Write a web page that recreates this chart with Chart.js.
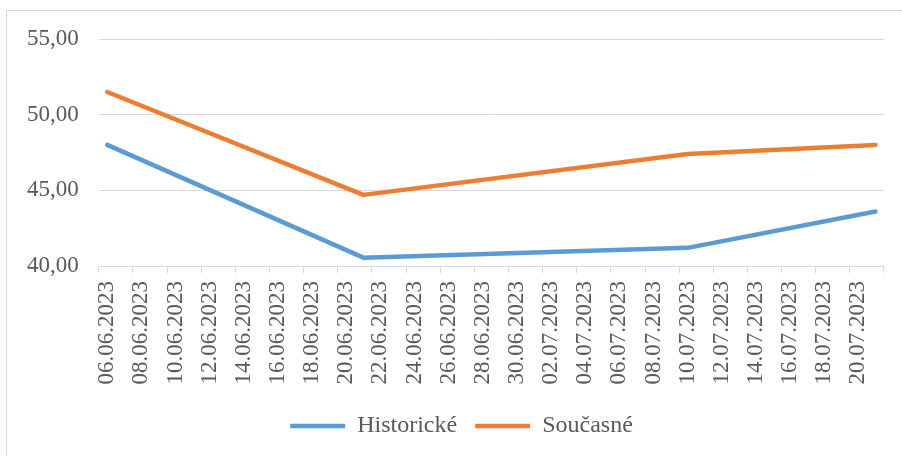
<!DOCTYPE html>
<html>
<head>
<meta charset="utf-8">
<script src="https://cdn.jsdelivr.net/npm/chart.js@4.4.0/dist/chart.umd.min.js"></script>
<style>
	body { margin: 0; background: #fff; }
	#wrap { position: relative; width: 902px; height: 456px; overflow: hidden; }
	#frame { position: absolute; left: 6px; top: 10px; width: 1000px; height: 1000px; border-left: 1px solid #d9d9d9; border-top: 1px solid #d9d9d9; }
	#chart { position: absolute; left: 0; top: 0; }
</style>
</head>
<body>
<div id="wrap">
	<div id="frame"></div>
	<canvas id="chart" width="902" height="456"></canvas>
</div>

<script type="text/javascript">

// kazdy den na ose (popisek jen u kazdeho druheho)
var days = [
	'06.06.2023', '07.06.2023', '08.06.2023', '09.06.2023', '10.06.2023', '11.06.2023',
	'12.06.2023', '13.06.2023', '14.06.2023', '15.06.2023', '16.06.2023', '17.06.2023',
	'18.06.2023', '19.06.2023', '20.06.2023', '21.06.2023', '22.06.2023', '23.06.2023',
	'24.06.2023', '25.06.2023', '26.06.2023', '27.06.2023', '28.06.2023', '29.06.2023',
	'30.06.2023', '01.07.2023', '02.07.2023', '03.07.2023', '04.07.2023', '05.07.2023',
	'06.07.2023', '07.07.2023', '08.07.2023', '09.07.2023', '10.07.2023', '11.07.2023',
	'12.07.2023', '13.07.2023', '14.07.2023', '15.07.2023', '16.07.2023', '17.07.2023',
	'18.07.2023', '19.07.2023', '20.07.2023', '21.07.2023'
];

// dny s merenim
var pointDays = ['06.06.2023', '21.06.2023', '10.07.2023', '21.07.2023'];
var historicke = [48.0, 40.55, 41.2, 43.6];
var soucasne = [51.5, 44.7, 47.4, 48.0];

var yTicks = [40, 45, 50, 55];

var gridColor = '#d9d9d9';
var textColor = '#595959';
var font = { family: 'Liberation Serif', size: 23 };

function toPoints(values) {
	var pts = [];
	for (i = 0; i < pointDays.length; i++) {
		pts.push({ x: pointDays[i], y: values[i] });
	}
	return pts;
}

function lineSet(label, values, color) {
	return {
		label: label,
		data: toPoints(values),
		borderColor: color,
		backgroundColor: color,
		borderWidth: 4.5,
		borderCapStyle: 'round',
		borderJoinStyle: 'round',
		pointRadius: 0,
		pointHoverRadius: 0,
		tension: 0
	};
}

// legenda v Excelu neni presne na stredu
var legendShift = {
	id: 'legendShift',
	afterLayout: function (chart) {
		chart.legend.left += 16;
		chart.legend.right += 16;
	}
};

var ctx = document.getElementById('chart').getContext('2d');
var myChart = new Chart(ctx, {
	type: 'line',
	data: {
		labels: days,
		datasets: [
			lineSet('Historické', historicke, '#5b9bd5'),
			lineSet('Současné', soucasne, '#ed7d31')
		]
	},
	plugins: [legendShift],
	options: {
		responsive: false,
		animation: false,
		layout: { padding: { left: 7, right: 18, top: 39, bottom: 8 } },
		plugins: {
			tooltip: { enabled: false },
			legend: {
				position: 'bottom',
				labels: {
					usePointStyle: true,
					pointStyle: 'line',
					pointStyleWidth: 55,
					padding: 18,
					color: textColor,
					font: { family: 'Liberation Serif', size: 24 }
				}
			}
		},
		scales: {
			x: {
				offset: true,
				grid: {
					offset: true,
					drawOnChartArea: false,
					drawTicks: true,
					tickLength: 7,
					color: function (c) {
						return (c.index === undefined || c.index % 2 === 0) ? gridColor : 'rgba(0,0,0,0)';
					}
				},
				border: { color: gridColor, width: 1 },
				ticks: {
					autoSkip: false,
					minRotation: 90,
					maxRotation: 90,
					padding: 8,
					color: textColor,
					font: font,
					callback: function (value, index) {
						return index % 2 === 0 ? this.getLabelForValue(value) : '';
					}
				},
				afterFit: function (scale) {
					scale.height = 130;
					scale.paddingLeft = 0;
					scale.paddingRight = 0;
				}
			},
			y: {
				min: yTicks[0],
				max: yTicks[yTicks.length - 1],
				afterBuildTicks: function (scale) {
					scale.ticks = yTicks.map(function (v) { return { value: v }; });
				},
				grid: { color: gridColor, drawTicks: false },
				border: { display: false },
				ticks: {
					padding: 20,
					color: textColor,
					font: font,
					callback: function (value) { return value.toFixed(2).replace('.', ','); }
				}
			}
		}
	}
});
</script>
</body>
</html>
